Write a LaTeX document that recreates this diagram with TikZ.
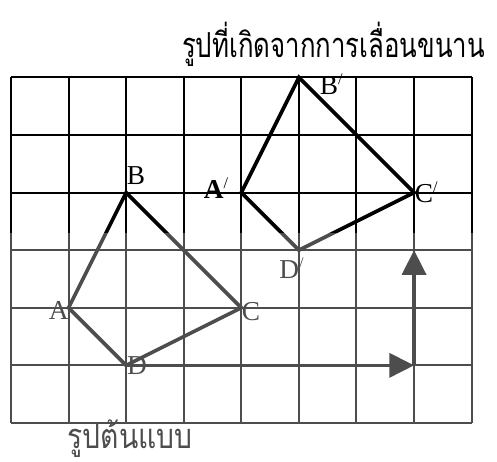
\documentclass[tikz,border=0pt]{standalone}
\usepackage{fontspec}
\setmainfont{Liberation Serif}
\newfontfamily\thaifont[Script=Thai]{Loma}
\usetikzlibrary{arrows.meta}
\newcommand{\primemark}{\raisebox{0.8ex}{\footnotesize /}}
\tikzset{
  gridline/.style={line width=1pt, black},
  shapeline/.style={line width=1.8pt, black, line join=miter},
  movearrow/.style={line width=1.6pt, black, -{Triangle[length=0.43cm,width=0.42cm]}},
  ptlabel/.style={inner sep=0pt, font=\fontsize{13.5}{13.5}\selectfont},
  thailabel/.style={inner sep=0pt, font=\thaifont\fontsize{17}{19}\selectfont},
}
\begin{document}
\begin{tikzpicture}[x=1cm,y=1cm]
\useasboundingbox (-0.19,-0.677) rectangle (8.44,7.344);
\draw[gridline] (0,0) grid (8,6);
% original shape
\coordinate (A) at (1,2);
\coordinate (B) at (2,4);
\coordinate (C) at (4,2);
\coordinate (D) at (2,1);
% translated shape
\coordinate (A') at (4,4);
\coordinate (B') at (5,6);
\coordinate (C') at (7,4);
\coordinate (D') at (5,3);
\coordinate (E) at (7,1);
\coordinate (F) at (7,3);
\draw[shapeline] (A) -- (B) -- (C) -- (D) -- cycle;
\draw[shapeline] (A') -- (B') -- (C') -- (D') -- cycle;
\draw[movearrow] (D) -- (E);
\draw[movearrow] (E) -- (F);
% labels
\node[ptlabel] (lA) at (0.83,1.95) {A};
\node[ptlabel] (lB) at (2.17,4.29) {B};
\node[ptlabel] (lC) at (4.17,1.93) {C};
\node[ptlabel] (lD) at (2.19,0.99) {D};
\node[ptlabel] (lA') at (3.56,4.07) {\textbf{A}\primemark};
\node[ptlabel] (lB') at (5.56,5.88) {B\primemark};
\node[ptlabel] (lC') at (7.21,4.0) {C\primemark};
\node[ptlabel] (lD') at (4.87,2.68) {D\primemark};
\node[thailabel, xscale=0.75] (title) at (5.6,6.58) {รูปที่เกิดจากการเลื่อนขนาน};
\node[thailabel, xscale=0.82] (orig) at (2.07,-0.27) {รูปต้นแบบ};
% lighter lower part of the picture
\fill[white, opacity=0.3] (-0.19,-0.677) rectangle (8.44,3.3);
\end{tikzpicture}
\end{document}
